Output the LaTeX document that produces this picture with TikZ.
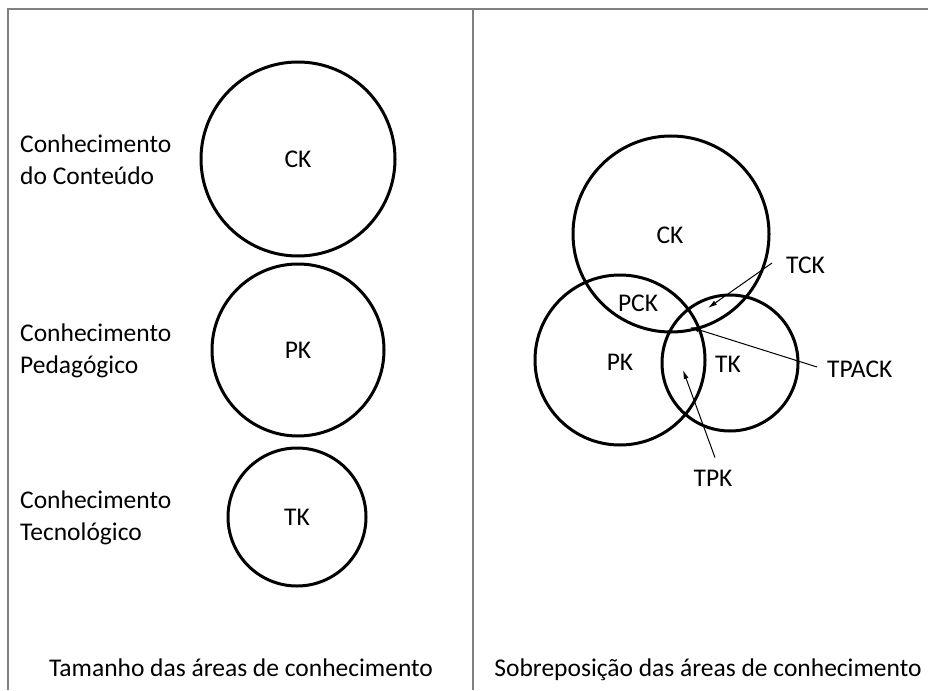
\documentclass[tikz,border=0pt]{standalone}
\usepackage{fontspec}
\setmainfont{Carlito}
\usepackage{tikz}
\usetikzlibrary{arrows.meta}

\begin{document}
\begin{tikzpicture}[>={Latex[length=9pt,width=5pt]}, x=1pt, y=-1pt,
  area/.style={circle, draw, line width=3pt, inner sep=0pt},
  lbl/.style={font=\fontsize{25.5}{32}\selectfont, inner sep=0pt},
  side/.style={lbl, align=left, anchor=west},
  pointer/.style={->, line width=1pt}]

\useasboundingbox (0,0) rectangle (928,690);

% Frame and divider
\draw [gray, line width=2pt] (8,690) -- (8,9) -- (928,9);
\draw [gray, line width=1.3pt] (473,9) -- (473,690);

% Left panel: the three areas at their sizes
\node [area, minimum size=194pt] (ck) at (298,159) {};
\node [area, minimum size=172pt] (pk) at (298,350) {};
\node [area, minimum size=138pt] (tk) at (297,517) {};
\foreach \n/\t in {ck/CK, pk/PK, tk/TK}
  \node [lbl] at (\n) {\t};

\node [side] (ckname) at (20,160) {Conhecimento\\do Conteúdo};
\node [side] (pkname) at (20,351) {Conhecimento\\Pedagógico};
\node [side] (tkname) at (20,518) {Conhecimento\\Tecnológico};

% Right panel: the overlapping areas
\node [area, minimum size=196pt] (ck2) at (671,234) {};
\node [area, minimum size=170pt] (pk2) at (620,360) {};
\node [area, minimum size=136pt] (tk2) at (730,363) {};

\node [lbl] (cklab)  at (670,235) {CK};
\node [lbl] (pcklab) at (638,303) {PCK};
\node [lbl] (pklab)  at (620,362) {PK};
\node [lbl] (tklab)  at (728,364) {TK};

\node [lbl, anchor=west] (tck)   at (786,265) {TCK};
\node [lbl, anchor=west] (tpack) at (827,369) {TPACK};
\node [lbl] (tpk) at (713,478) {TPK};

\coordinate (tckpt)   at (708,308);
\coordinate (tpackpt) at (690,327);
\coordinate (tpkpt)   at (683,370);

\draw [pointer] (tck.west) ++(-14,-2) -- (tckpt);
\draw [pointer] (tpack.west) ++(-10,-2) -- (tpackpt);
\draw [pointer] (tpk.north) ++(2,-12) -- (tpkpt);

% Captions
\node [lbl, anchor=base] (leftcap)  at (241,676) {Tamanho das áreas de conhecimento};
\node [lbl, anchor=base] (rightcap) at (708,676) {Sobreposição das áreas de conhecimento};

\end{tikzpicture}
\end{document}
